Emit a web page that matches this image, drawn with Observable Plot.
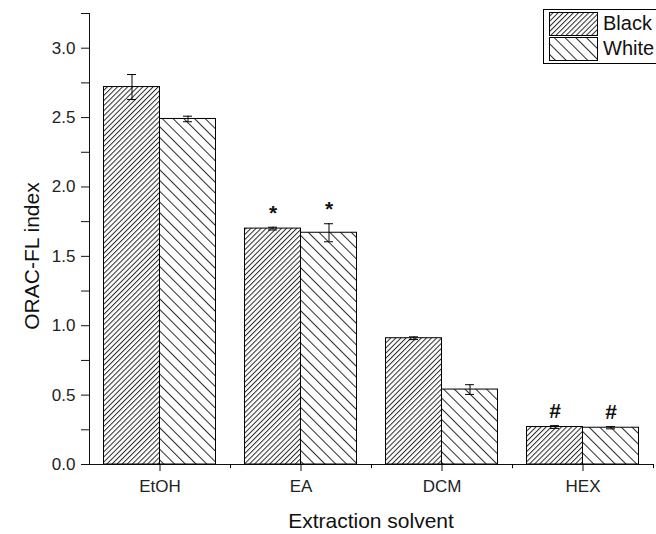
<!DOCTYPE html>
<html>
<head>
<meta charset="utf-8">
<script src="https://cdn.jsdelivr.net/npm/d3@7"></script>
<script src="https://cdn.jsdelivr.net/npm/@observablehq/plot@0.6"></script>
<style>
  html, body { margin: 0; padding: 0; background: #fff; }
  #chart { position: relative; width: 656px; height: 534px; overflow: hidden; }
  #chart svg g.tick text, #chart svg [aria-label*='tick label'] text { font-size: 17px !important; fill: #222; }
</style>
</head>
<body>
<div id="chart"></div>
<script>
// ---- data ----
const categories = ["EtOH", "EA", "DCM", "HEX"];
const series = ["Black", "White"];
const blackValues = [2.72, 1.70, 0.91, 0.27];
const blackErrors = [0.09, 0.01, 0.01, 0.01];
const whiteValues = [2.49, 1.67, 0.54, 0.265];
const whiteErrors = [0.02, 0.065, 0.035, 0.008];
const markers = ["", "*", "", "#"];
const yTickValues = [0, 0.25, 0.5, 0.75, 1, 1.25, 1.5, 1.75, 2, 2.25, 2.5, 2.75, 3, 3.25];
const yLabelValues = [0, 0.5, 1, 1.5, 2, 2.5, 3];
const xTitle = "Extraction solvent";
const yTitle = "ORAC-FL index";

const rows = categories.flatMap((c, i) => [
  {cat: c, series: "Black", value: blackValues[i], err: blackErrors[i], mark: markers[i]},
  {cat: c, series: "White", value: whiteValues[i], err: whiteErrors[i], mark: markers[i]}
]);
const blackRows = rows.filter(d => d.series === "Black");
const whiteRows = rows.filter(d => d.series === "White");

// ---- geometry (styles) ----
const W = 656, H = 534;
const mL = 89, mR = 3, mT = 13, mB = 70;
const band = (W - mL - mR) / categories.length;
const barW = 56;
const outer = band / 2 - barW;
const capW = 9;
const font = "'Liberation Sans', Arial, Helvetica, sans-serif";
const fill = {Black: "url(#hatchBlack)", White: "url(#hatchWhite)"};

function capMarks(data, side, yfn) {
  const center = side < 0 ? band / 2 - barW / 2 : band / 2 + barW / 2;
  return Plot.tickY(data, {
    x: "cat", y: yfn, stroke: "black", strokeWidth: 1,
    insetLeft: center - capW / 2, insetRight: band - center - capW / 2
  });
}

const svg = Plot.plot({
  width: W, height: H,
  marginLeft: mL, marginRight: mR, marginTop: mT, marginBottom: mB,
  style: {fontFamily: font, fontSize: "17px", color: "#111", background: "white"},
  x: {domain: categories, padding: 0, label: null, tickSize: 7, tickPadding: 8, line: true},
  y: {domain: [0, 3.25], ticks: yTickValues, label: null, tickSize: 8, tickPadding: 6, line: true,
      tickFormat: d => yLabelValues.includes(d) ? d.toFixed(1) : ""},
  marks: [
    Plot.barY(blackRows, {x: "cat", y: "value", fill: fill.Black, stroke: "black", strokeWidth: 1,
      insetLeft: outer, insetRight: band - outer - barW}),
    Plot.barY(whiteRows, {x: "cat", y: "value", fill: fill.White, stroke: "black", strokeWidth: 1,
      insetLeft: band - outer - barW, insetRight: outer}),
    Plot.ruleX(blackRows, {x: "cat", y1: d => d.value - d.err, y2: d => d.value + d.err, dx: -barW / 2, stroke: "black"}),
    Plot.ruleX(whiteRows, {x: "cat", y1: d => d.value - d.err, y2: d => d.value + d.err, dx: barW / 2, stroke: "black"}),
    capMarks(blackRows, -1, d => d.value - d.err),
    capMarks(blackRows, -1, d => d.value + d.err),
    capMarks(whiteRows, 1, d => d.value - d.err),
    capMarks(whiteRows, 1, d => d.value + d.err),
    Plot.text(blackRows.filter(d => d.mark), {x: "cat", y: d => d.value + d.err, text: "mark", dx: -barW / 2, dy: -14,
      fontSize: 21, fontWeight: "bold", fill: "#111"}),
    Plot.text(whiteRows.filter(d => d.mark), {x: "cat", y: d => d.value + d.err, text: "mark", dx: barW / 2, dy: -14,
      fontSize: 21, fontWeight: "bold", fill: "#111"}),
    Plot.ruleX(categories, {x: d => d, y1: 0, y2: -0.03, dx: band / 2, stroke: "black"})
  ]
});

const s = d3.select(svg);
// axis tick label size (covers both d3-axis and axis-mark renderings)
s.selectAll("g.tick text").attr("font-size", 17).style("font-size", "17px").style("fill", "#222");
s.selectAll("g").filter(function () {
  const a = this.getAttribute("aria-label") || "";
  return a.includes("tick label");
}).attr("font-size", 17).style("font-size", "17px");

// pattern definitions
const defs = s.insert("defs", ":first-child");
function hatch(id, spacing, angle) {
  const p = defs.append("pattern").attr("id", id).attr("patternUnits", "userSpaceOnUse")
    .attr("width", spacing).attr("height", 20).attr("patternTransform", `rotate(${angle})`);
  p.append("rect").attr("width", spacing).attr("height", 20).attr("fill", "white");
  p.append("line").attr("x1", 0.5).attr("x2", 0.5).attr("y1", 0).attr("y2", 20)
    .attr("stroke", "#2a2a2a").attr("stroke-width", 1);
}
hatch("hatchBlack", 3.6, 45);
hatch("hatchWhite", 7.6, -45);

// axis titles
s.append("text").attr("x", (mL + W - mR) / 2).attr("y", 528).attr("text-anchor", "middle")
  .attr("font-family", font).attr("font-size", 21).attr("fill", "#111").text(xTitle);
s.append("text").attr("transform", "translate(39,256) rotate(-90)").attr("text-anchor", "middle")
  .attr("font-family", font).attr("font-size", 21).attr("fill", "#111").text(yTitle);

// legend
const lg = s.append("g").attr("font-family", font).attr("font-size", 20).attr("fill", "#111")
  .attr("text-anchor", "start");
lg.append("rect").attr("x", 543.5).attr("y", 9.5).attr("width", 130).attr("height", 54)
  .attr("fill", "white").attr("stroke", "black").attr("stroke-width", 1);
series.forEach((name, i) => {
  lg.append("rect").attr("x", 549.5).attr("y", 12.5 + i * 25).attr("width", 48).attr("height", 23)
    .attr("fill", fill[name]).attr("stroke", "black").attr("stroke-width", 1);
  lg.append("text").attr("x", 603).attr("y", 30 + i * 24.5).attr("text-anchor", "start")
    .style("text-anchor", "start").text(name);
});

document.getElementById("chart").appendChild(svg);
</script>
</body>
</html>
